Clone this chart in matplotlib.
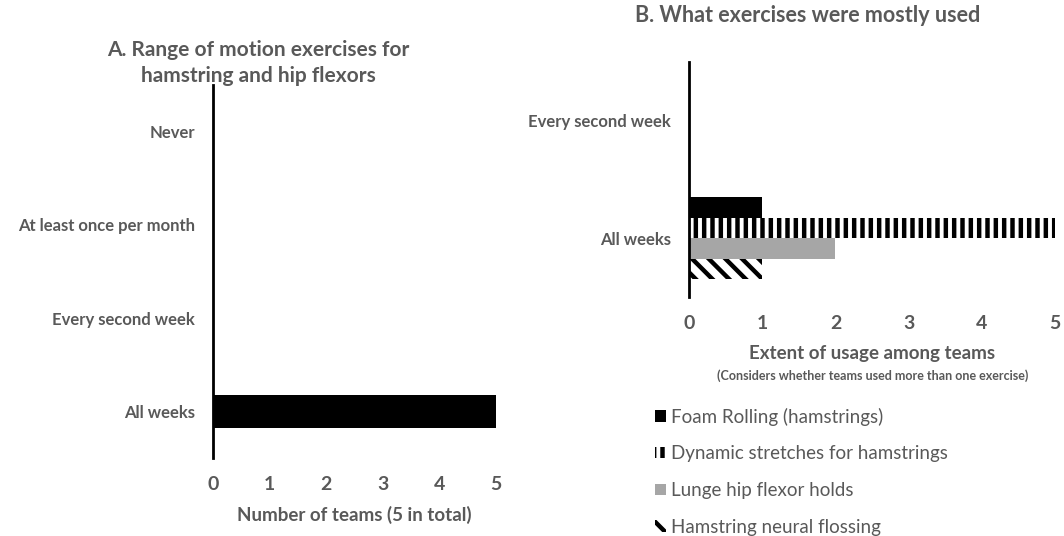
import matplotlib.pyplot as plt
import numpy as np

plt.rcParams['font.family'] = ['Lato', 'DejaVu Sans']
plt.rcParams['hatch.linewidth'] = 3.2
GREY = '#595959'

# A: range of motion exercises
freq_a = ['Never', 'At least once per month', 'Every second week', 'All weeks']
teams_a = [0, 0, 0, 5]

# B: which exercises were mostly used
freq_b = ['Every second week', 'All weeks']
exercises = ['Foam Rolling (hamstrings)', 'Dynamic stretches for hamstrings',
             'Lunge hip flexor holds', 'Hamstring neural flossing']
usage = {
    'Foam Rolling (hamstrings)': [0, 1],
    'Dynamic stretches for hamstrings': [0, 5],
    'Lunge hip flexor holds': [0, 2],
    'Hamstring neural flossing': [0, 1],
}
styles = [('black', None), ('white', '||'), ('#a6a6a6', None), ('white', '\\\\')]


def clean(ax):
    for s in ['top', 'right', 'bottom']:
        ax.spines[s].set_visible(False)
    ax.spines['left'].set_linewidth(2)
    ax.spines['left'].set_color('black')
    ax.tick_params(length=0)
    ax.tick_params(axis='x', pad=13, labelsize=14, labelcolor=GREY)
    ax.tick_params(axis='y', pad=13, labelsize=12, labelcolor=GREY)
    for t in ax.get_xticklabels() + ax.get_yticklabels():
        t.set_fontweight('bold')


fig = plt.figure(figsize=(10.64, 5.36), dpi=100)

ax1 = fig.add_axes([0.2002, 0.1455, 0.266, 0.696])
y1 = np.arange(len(freq_a))[::-1]
ax1.barh(y1, teams_a, height=0.36, color='black')
ax1.set_yticks(y1)
ax1.set_yticklabels(freq_a)
ax1.set_ylim(-0.5, 3.5)
ax1.set_xlim(0, 5)
ax1.set_xticks(range(6))
clean(ax1)
ax1.set_xlabel('Number of teams (5 in total)', fontsize=13.5, fontweight='bold',
               color=GREY, labelpad=9)
fig.text(0.243, 0.883, 'A. Range of motion exercises for\nhamstring and hip flexors',
         ha='center', va='center', fontsize=15, fontweight='bold', color=GREY,
         linespacing=1.35)

ax2 = fig.add_axes([0.6476, 0.4459, 0.344, 0.4384])
y2 = np.arange(len(freq_b))[::-1]
h = 0.175
for i, ex in enumerate(exercises):
    c, hatch = styles[i]
    ax2.barh(y2 + (1.5 - i) * h, usage[ex], height=h, color=c, hatch=hatch,
             edgecolor='black', linewidth=0, label=ex)
ax2.set_yticks(y2)
ax2.set_yticklabels(freq_b)
ax2.set_ylim(-0.5, 1.5)
ax2.set_xlim(0, 5)
ax2.set_xticks(range(6))
clean(ax2)
ax2.set_xlabel('Extent of usage among teams', fontsize=13.5, fontweight='bold',
               color=GREY, labelpad=9)
fig.text(0.82, 0.300, '(Considers whether teams used more than one exercise)',
         ha='center', va='center', fontsize=9, fontweight='bold', color=GREY)
fig.text(0.759, 0.972, 'B. What exercises were mostly used',
         ha='center', va='center', fontsize=15.5, fontweight='bold', color=GREY)

fig.legend(*ax2.get_legend_handles_labels(), loc='center left',
           bbox_to_anchor=(0.600, 0.12), frameon=False,
           fontsize=13.5, handlelength=0.55, handleheight=0.55, handletextpad=0.3,
           labelspacing=1.05, labelcolor=GREY)

fig.savefig('out.png', dpi=100)
